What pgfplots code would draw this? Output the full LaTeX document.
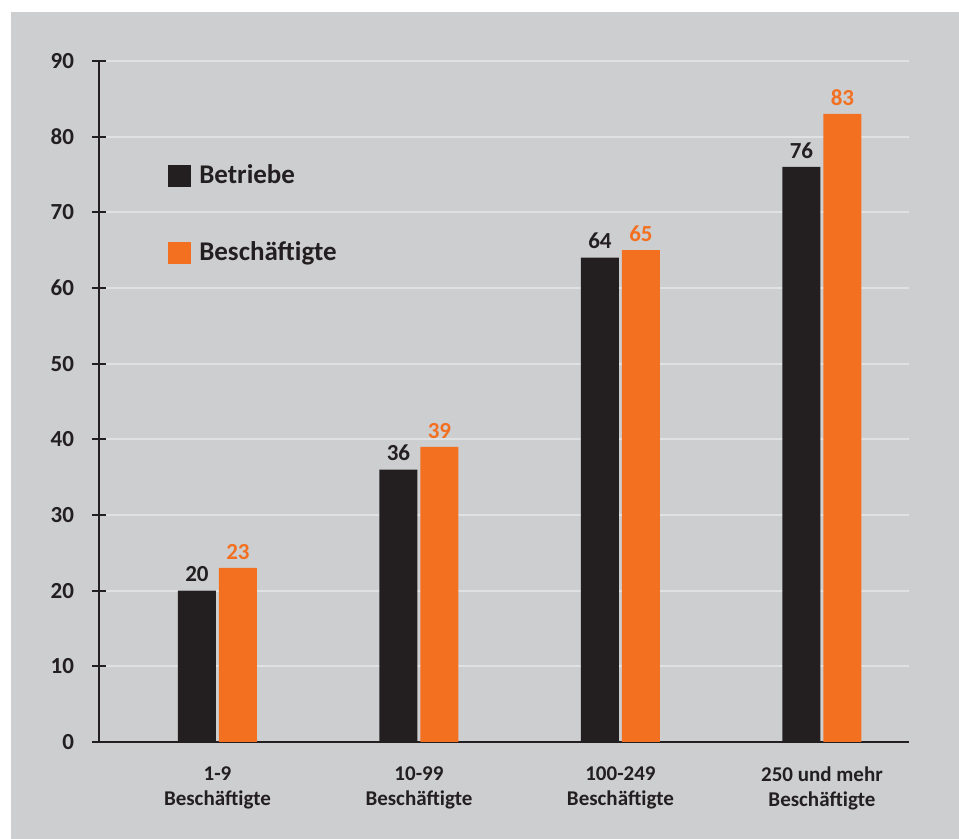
\documentclass[border=0pt]{standalone}
\usepackage{fontspec}
\setmainfont{Carlito}
\usepackage{pgfplots}
\pgfplotsset{compat=1.18}
\definecolor{bg}{HTML}{CDCED0}
\definecolor{gridc}{HTML}{E0E1E3}
\definecolor{dk}{HTML}{231F20}
\definecolor{org}{HTML}{F37021}
\begin{document}
\begin{tikzpicture}
\path[use as bounding box] (-49.5pt,-48.5pt) rectangle (430pt,371pt);
\fill[bg] (-44pt,-48.5pt) rectangle (430pt,365pt);
\begin{axis}[
  scale only axis, width=405pt, height=340.5pt,
  xmin=-0.588, xmax=3.432, ymin=0, ymax=90,
  axis lines*=left,
  axis line style={dk, line width=1.1pt},
  ytick={0,10,...,90},
  xtick={0,1,2,3},
  xticklabels={{1-9\\Beschäftigte},{10-99\\Beschäftigte},{100-249\\Beschäftigte},{250 und mehr\\Beschäftigte}},
  xtick style={draw=none},
  ytick style={dk, line width=1.1pt},
  major tick length=7pt,
  tick align=center,
  ymajorgrids,
  major grid style={gridc, line width=1pt},
  /pgf/number format/assume math mode=true,
  yticklabel style={font=\fontsize{11.5}{13}\selectfont\bfseries, text=dk, xshift=-5.5pt},
  xticklabel style={font=\fontsize{10.5}{12.5}\selectfont\bfseries, text=dk, align=center, yshift=-5.5pt},
  legend style={draw=none, fill=none, at={(rel axis cs:0.085,0.854)}, anchor=north west,
    font=\fontsize{13.5}{15}\selectfont\bfseries, text=dk, row sep=23.5pt, inner sep=0pt},
  legend cell align=left,
]
\addlegendimage{legend image code/.code={\fill[dk, draw=none] (0pt,-5.6pt) rectangle (11.5pt,5.6pt); \path[draw=none] (0pt,0pt) -- (13.5pt,0pt);}}
\addlegendentry{Betriebe}
\addlegendimage{legend image code/.code={\fill[org, draw=none] (0pt,-5.6pt) rectangle (11.5pt,5.6pt); \path[draw=none] (0pt,0pt) -- (13.5pt,0pt);}}
\addlegendentry{Beschäftigte}
\addplot[ybar, bar width=19pt, bar shift=-10.25pt, fill=dk, draw=none, forget plot,
  nodes near coords, every node near coord/.append style={text=dk, xshift=-10.25pt, yshift=0.8pt, font=\fontsize{11.5}{13}\selectfont\bfseries}]
  coordinates {(0,20) (1,36) (2,64) (3,76)};
\addplot[ybar, bar width=19pt, bar shift=10.25pt, fill=org, draw=none, forget plot,
  nodes near coords, every node near coord/.append style={text=org, xshift=10.25pt, yshift=0.8pt, font=\fontsize{11.5}{13}\selectfont\bfseries}]
  coordinates {(0,23) (1,39) (2,65) (3,83)};
\end{axis}
\end{tikzpicture}
\end{document}
